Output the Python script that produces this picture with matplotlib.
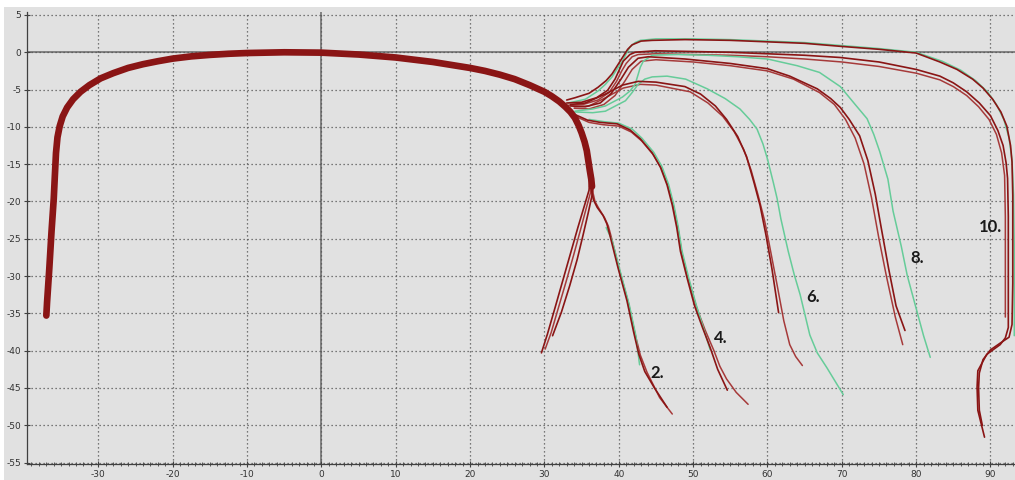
import matplotlib
matplotlib.use("Agg")
import matplotlib.pyplot as plt
from matplotlib.patches import Rectangle
from matplotlib.ticker import MultipleLocator
import numpy as np

# thick envelope curve
MAIN = [(-37.0, -35.3), (-36.9, -33.5), (-36.6, -29.0), (-36.3, -24.0), (-36.0, -19.6),
        (-35.85, -16.5), (-35.7, -13.5), (-35.5, -11.4), (-35.2, -9.9), (-34.8, -8.6),
        (-34.2, -7.4), (-33.4, -6.3), (-32.4, -5.3), (-31.2, -4.4), (-29.7, -3.5),
        (-28.0, -2.8), (-26.0, -2.1), (-24.0, -1.6), (-22.0, -1.2), (-20.0, -0.85),
        (-17.5, -0.55), (-15.0, -0.35), (-12.5, -0.2), (-10.0, -0.1), (-5.0, 0.0),
        (0.0, -0.05), (5.0, -0.3), (10.0, -0.7), (15.0, -1.3), (20.0, -2.1), (22.0, -2.5),
        (24.0, -3.0), (26.0, -3.6), (28.0, -4.4), (30.0, -5.3), (31.0, -5.9), (32.0, -6.6),
        (32.8, -7.3), (33.5, -8.0), (34.1, -8.8), (34.6, -9.8), (35.0, -10.8), (35.4, -12.0),
        (35.7, -13.2), (35.9, -14.5), (36.1, -15.8), (36.3, -17.0), (36.4, -18.0)]

# branch 10
T10A = [(33.0, -6.4), (34.1, -6.1), (36.0, -5.5), (37.2, -4.7), (38.3, -3.8), (39.1, -2.9),
        (39.8, -1.8), (40.5, -0.7), (41.2, 0.4), (41.8, 1.0), (43.0, 1.5), (44.5, 1.6),
        (48.9, 1.7), (55, 1.6), (60, 1.4), (65, 1.2), (69.8, 0.8), (75, 0.4), (80, -0.1),
        (83.2, -1.3), (85.5, -2.3), (87.6, -3.6), (89.0, -4.8), (90.3, -6.3), (91.4, -8.0),
        (92.2, -9.9), (92.7, -12.5), (92.9, -14.7), (93.0, -19.2), (93.0, -25), (93.0, -31),
        (92.9, -36.5), (92.5, -38.2), (91.3, -39.0), (90.0, -39.9), (89.0, -41.2),
        (88.5, -43), (88.4, -45), (88.5, -48), (88.9, -50.0)]
T10B = [(33.0, -6.8), (35.0, -6.7), (37.0, -6.1), (38.5, -5.1), (39.5, -3.6), (40.1, -2.3),
        (40.6, -1.2), (41.5, -0.3), (42.2, 0.0), (44.9, 0.2), (50, 0.1), (55, 0.0),
        (60, -0.2), (65, -0.4), (69.8, -0.7), (75, -1.3), (80, -2.3), (83.2, -3.2),
        (85, -4.1), (86.8, -5.3), (88.5, -6.8), (90, -8.5), (91, -10.5), (91.7, -12.5),
        (92.1, -14.8), (92.3, -16.9), (92.4, -22), (92.4, -30), (92.4, -36.9), (92.0, -38.3),
        (91.3, -39.2), (89.5, -40.5), (88.3, -42.7), (88.2, -44.9), (88.3, -48), (89.2, -51.6)]
T10C = [(33.2, -7.1), (35.2, -7.0), (37.2, -6.4), (38.7, -5.4), (39.7, -3.9), (40.4, -2.5),
        (41.0, -1.5), (41.8, -0.6), (42.6, -0.3), (45, -0.2), (50, -0.3), (55, -0.4),
        (60, -0.6), (65, -0.9), (70, -1.3), (75, -1.9), (80, -2.8), (83.2, -3.7), (85, -4.6),
        (86.8, -5.8), (88.4, -7.3), (89.8, -9.0), (90.8, -11), (91.5, -13.5), (91.9, -16.5),
        (92.0, -22), (92.0, -30), (92.0, -35.5)]
G10 = [(33.2, -6.8), (35.5, -6.3), (37.2, -5.2), (38.2, -4.3), (39.1, -3.3), (39.8, -2.2),
       (40.5, -1.2), (41.0, -0.2), (41.5, 0.7), (42.2, 1.3), (42.9, 1.6), (45, 1.8), (50, 1.8),
       (55, 1.7), (60, 1.5), (65, 1.3), (70, 0.9), (75, 0.5), (80, 0.0), (83.5, -1.2),
       (86, -2.4), (88, -3.8), (89.6, -5.3), (90.8, -7.0), (91.8, -9.0), (92.5, -11.5),
       (92.9, -14.5), (93.1, -19), (93.2, -26), (93.2, -33), (93.2, -38)]

# branch 8
T8A = [(33.5, -7.2), (35.5, -7.3), (37.5, -6.8), (39.0, -5.5), (40.3, -3.6), (41.3, -2.0),
       (42.6, -0.8), (44, -0.6), (48.9, -0.9), (55, -1.5), (60, -2.2), (63, -3.2), (66.7, -4.9),
       (68.5, -6.2), (69.8, -7.4), (71, -9.0), (72.4, -11.2), (73.5, -14.5), (74.5, -19),
       (75.3, -23.5), (76.3, -29), (77.3, -34), (78.5, -37.3)]
T8B = [(34.0, -7.5), (36.0, -7.6), (38.0, -7.0), (39.5, -5.8), (40.8, -3.9), (41.8, -2.3),
       (43.0, -1.2), (45, -1.0), (50, -1.3), (55, -1.8), (60, -2.5), (63.5, -3.6), (67, -5.4),
       (69, -7.0), (70.5, -9.0), (71.8, -11.5), (73, -15), (74, -19.5), (75, -25), (76, -30),
       (77.2, -35.5), (78.2, -39.2)]
G8 = [(34.1, -7.9), (36.5, -7.6), (38.2, -7.2), (40.5, -6.0), (41.5, -5.2), (42.2, -4.3),
      (42.6, -3.0), (42.9, -2.0), (43.3, -1.2), (44.5, -0.4), (48, -0.3), (52, -0.4), (56, -0.6),
      (60, -0.9), (64, -1.8), (67, -2.7), (69.8, -4.6), (71.8, -7.0), (73.4, -8.9), (74.3, -11),
      (75.1, -13.3), (76.2, -17), (76.9, -21.3), (78, -26), (78.8, -29.9), (80.1, -34.7),
      (81, -38), (81.9, -40.9)]

# branch 6
T6A = [(33.5, -7.0), (35.5, -6.8), (38.2, -5.6), (40.5, -4.4), (42.6, -3.9), (45, -4.0),
       (48.9, -4.6), (51, -5.6), (53, -7.2), (54.5, -9.0), (56.0, -11.3), (57.2, -14),
       (58.2, -17.5), (59, -20.5), (59.8, -24.5), (60.6, -29), (61.5, -34.9)]
T6B = [(34, -7.3), (36, -7.2), (38.4, -6.0), (40.6, -4.8), (42.9, -4.3), (45, -4.4),
       (49.6, -5.3), (52, -6.8), (54, -8.6), (55.5, -10.6), (56.8, -13), (57.8, -15.8),
       (58.7, -19), (59.6, -22.5), (60.2, -25.5), (61.3, -31.2), (62.2, -36), (63, -39.2),
       (63.8, -40.8), (64.7, -42)]
G6 = [(34.1, -8.0), (36.5, -8.1), (38.2, -7.9), (40.9, -6.5), (41.8, -5.4), (42.6, -4.3),
      (43.5, -3.6), (44.5, -3.3), (46.5, -3.2), (49, -3.6), (51.9, -4.9), (54.3, -6.2),
      (56.3, -7.6), (57.6, -9), (58.6, -10.3), (59.4, -12.3), (60, -14.3), (60.8, -17.5),
      (61.3, -19.6), (61.8, -22.3), (62.8, -26.7), (63.6, -29.8), (64.4, -32.5), (65.7, -37.9),
      (66.7, -40.3), (68, -42.3), (70.2, -45.9)]

# branch 4
T4A = [(34.0, -8.3), (35.8, -9.1), (37.5, -9.4), (39.8, -9.6), (41.5, -10.4), (42.9, -11.6),
       (44.5, -13.5), (45.6, -15.4), (46.5, -17.8), (47.2, -20.5), (47.8, -23.5), (48.3, -26.7),
       (49.2, -30.3), (50.2, -34), (51.3, -37), (52.3, -39.6), (53.3, -42.5), (54.6, -45.3)]
T4B = [(34.2, -8.6), (36, -9.4), (37.8, -9.7), (40, -9.9), (41.7, -10.7), (43.1, -11.9),
       (44.7, -13.8), (45.8, -15.7), (46.7, -18.1), (47.4, -20.8), (48.0, -23.8), (48.5, -27),
       (49.4, -30.6), (50.5, -34.3), (51.6, -37.2), (52.8, -40), (53.6, -42.1), (54.5, -43.8),
       (55.8, -45.6), (57.4, -47.2)]
G4 = [(36, -9.0), (38, -9.3), (40, -9.5), (41.8, -10.3), (43.1, -11.5), (44.7, -13.4),
      (45.8, -15.3), (46.7, -17.7), (47.4, -20.4), (48.0, -23.4), (48.5, -26.6), (49.4, -30.2),
      (50.4, -33.8), (51.4, -37), (52.3, -39.9)]

# branch 2
T2A = [(36.3, -17.2), (36.35, -18.6), (36.6, -19.8), (37.1, -20.8), (37.9, -21.9), (38.4, -23.0),
       (38.8, -24.5), (39.9, -28.9), (41.1, -33.3), (42.0, -37.5), (42.7, -40.5), (43.5, -42.8),
       (44.8, -45), (46.5, -47.6)]
T2B = [(36.5, -17.5), (36.55, -18.9), (36.8, -20.0), (37.3, -20.9), (38.1, -22.2), (38.6, -23.3),
       (39.0, -24.8), (40.1, -29.2), (41.3, -33.6), (42.2, -37.8), (42.9, -40.6), (43.8, -42.9),
       (45.5, -46.3), (47.2, -48.5)]
G2 = [(38.3, -23.5), (39.1, -25.2), (40.2, -29.4), (41.4, -33.8), (42.3, -38), (42.8, -41.9)]

# lines falling back to the left
R1 = [(36.2, -15.5), (36.0, -18.5), (35.4, -20.5), (34.5, -23.5), (33.5, -27), (32.5, -30.5),
      (31.5, -34), (30.4, -37.8), (29.6, -40.3)]
R2 = [(36.4, -16), (36.2, -18.8), (35.6, -21), (34.8, -24), (33.9, -27.3), (32.9, -30.8),
      (31.9, -34.2), (30.9, -37.6), (30.1, -39.8)]
R3 = [(36.5, -16.5), (36.4, -19.2), (35.9, -21.5), (35.2, -24.5), (34.4, -27.8), (33.4, -31.3),
      (32.3, -34.8), (31.1, -38.0)]

LABELS = ["2.", "4.", "6.", "8.", "10."]
LABEL_POS = [(45.2, -43.0), (53.7, -38.3), (66.2, -32.8), (80.2, -27.6), (90.0, -23.4)]

BG = "#e1e1e1"
DARK = "#8a1515"
MID = "#a63a3a"
GREEN = "#66cc99"

fig = plt.figure(figsize=(10.15, 4.8), dpi=100, facecolor="white")
fig.patches.append(Rectangle((4 / 1015, 0), 1, 1 - 7 / 480, transform=fig.transFigure,
                             facecolor=BG, edgecolor="none", zorder=-10))
ax = fig.add_axes([27 / 1015, 16 / 480, 988 / 1015, 452 / 480])
ax.set_facecolor(BG)

ax.set_xlim(-39.6, 93.3)
ax.set_ylim(-55.2, 5.4)

ax.xaxis.set_minor_locator(MultipleLocator(1))
ax.set_xticks(np.arange(-30, 91, 10))
ax.set_yticks(np.arange(-55, 6, 5))
ax.set_xticklabels([str(v) for v in range(-30, 91, 10)])
ax.set_yticklabels([str(v) for v in range(-55, 6, 5)])

ax.tick_params(axis="both", which="major", labelsize=6.5, labelcolor="#333333",
               direction="inout", length=4, width=0.8, color="#404040", pad=2)
ax.tick_params(axis="x", which="minor", direction="inout", length=3, width=0.6, color="#404040")

for s in ["top", "right"]:
    ax.spines[s].set_visible(False)
for s in ["left", "bottom"]:
    ax.spines[s].set_color("#404040")
    ax.spines[s].set_linewidth(0.9)

ax.grid(True, which="major", linestyle=(0, (1, 2.2)), color="#555555", linewidth=0.9)
ax.axhline(0, color="#7a7a7a", linewidth=1.3, zorder=1)
ax.axvline(0, color="#7a7a7a", linewidth=1.3, zorder=1)

def draw(pts, color, lw, z=2):
    arr = np.array(pts)
    ax.plot(arr[:, 0], arr[:, 1], color=color, linewidth=lw, zorder=z,
            solid_capstyle="round", solid_joinstyle="round")

draw(MAIN, DARK, 4.8, 4)

for trace in [T10C, T8B, T6B, T4B, T2B, R2]:
    draw(trace, MID, 1.1)
for trace in [G10, G8, G6, G4, G2]:
    draw(trace, GREEN, 1.1, 3)
for trace in [T10A, T10B, T8A, T6A, T4A, T2A, R1, R3]:
    draw(trace, DARK, 1.2, 3)

for lab, (lx, ly) in zip(LABELS, LABEL_POS):
    ax.text(lx, ly, lab, fontsize=12, fontweight="bold", family="Lato",
            color="#1a1a1a", ha="center", va="center", zorder=5)

fig.savefig("out.png", dpi=100, facecolor=fig.get_facecolor())
